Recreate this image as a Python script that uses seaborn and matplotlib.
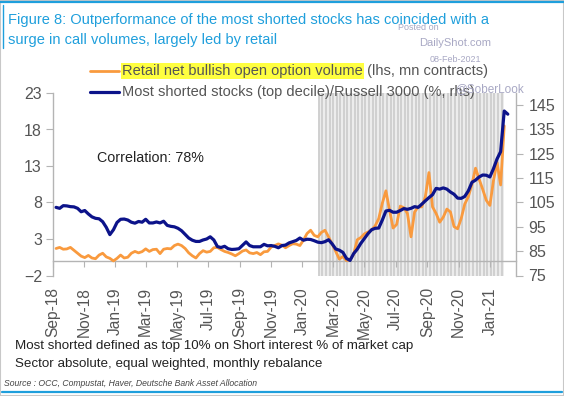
import numpy as np
import pandas as pd
import matplotlib
matplotlib.use('Agg')
import matplotlib.pyplot as plt
import matplotlib.dates as mdates
from matplotlib.lines import Line2D
from matplotlib.patches import Rectangle
import seaborn as sns

#=============================================================================
# data (weekly, Fridays)
weeks = pd.date_range('2018-09-07', periods=127, freq='7D')

# Most shorted stocks (top decile)/Russell 3000 (%, rhs)
shorted = [103.0, 102.6, 103.7, 103.6, 103.3, 103.2, 102.6, 101.2, 101.7, 100.3,
           99.1, 98.5, 98.3, 97.1, 94.8, 91.8, 93.8, 96.8, 98.1, 98.2,
           97.8, 96.9, 96.5, 97.2, 96.9, 98.1, 96.6, 96.6, 97.0, 96.6,
           97.3, 95.6, 95.2, 95.0, 94.4, 93.4, 91.9, 90.4, 89.5, 89.0,
           89.0, 89.6, 90.0, 90.9, 89.6, 86.9, 86.5, 87.0, 86.0, 85.7,
           85.8, 86.0, 87.4, 88.8, 87.3, 86.8, 86.8, 86.8, 87.8, 87.2,
           87.3, 87.0, 86.4, 87.3, 87.5, 88.4, 88.9, 89.4, 90.4, 89.5,
           89.9, 89.8, 89.3, 88.7, 88.5, 88.9, 89.7, 88.0, 85.9, 85.4,
           84.5, 82.0, 81.2, 84.0, 85.8, 88.2, 90.2, 92.2, 93.8, 94.4,
           94.5, 97.8, 101.5, 101.8, 101.0, 101.0, 101.7, 102.5, 102.2, 102.6,
           103.3, 103.0, 104.3, 105.7, 107.0, 108.2, 110.8, 110.5, 111.0, 110.5,
           109.3, 108.4, 106.8, 106.7, 107.5, 109.8, 113.3, 114.2, 115.5, 116.3,
           116.2, 115.5, 118.9, 122.9, 125.9, 142.6, 141.3]

# Retail net bullish open option volume (lhs, mn contracts)
retail = [1.7, 1.85, 1.6, 1.64, 1.85, 1.45, 1.05, 0.65, 0.45, 0.75,
          0.4, 0.3, 0.8, 1.05, 0.55, 0.35, 0.0, 0.35, 0.8, 0.4,
          0.5, 1.05, 1.3, 1.1, 1.27, 1.65, 1.3, 1.55, 1.6, 1.0,
          1.6, 1.7, 1.65, 2.1, 2.3, 2.1, 1.7, 1.1, 0.7, 0.4,
          1.0, 1.4, 1.2, 1.3, 1.8, 1.85, 1.55, 1.3, 1.15, 0.95,
          0.7, 1.0, 1.35, 1.5, 1.1, 1.0, 1.15, 0.85, 1.25, 1.3,
          1.9, 2.1, 2.33, 2.15, 1.8, 2.1, 2.35, 2.3, 2.1, 2.85,
          3.75, 4.2, 3.5, 3.3, 3.9, 4.2, 3.3, 2.3, 1.3, 0.25,
          0.6, 0.05, 0.15, 0.9, 2.9, 3.2, 3.7, 3.95, 4.25, 4.8,
          5.8, 7.9, 9.6, 7.0, 4.5, 5.0, 7.5, 7.3, 6.5, 3.3,
          6.7, 7.4, 7.4, 8.8, 12.1, 7.4, 6.5, 5.3, 6.0, 7.1,
          6.7, 4.7, 4.4, 5.8, 7.8, 8.8, 10.5, 12.7, 11.2, 9.8,
          8.3, 7.6, 11.0, 13.5, 10.4, 18.5, np.nan]

# shaded (striped) period
shade_start = pd.Timestamp('2020-02-02')
shade_end = pd.Timestamp('2021-01-29')
shade_weeks = pd.date_range(shade_start, shade_end, freq='7D')

left_ticks = [-2, 3, 8, 13, 18, 23]
right_ticks = [75, 85, 95, 105, 115, 125, 135, 145]

#=============================================================================
orange = '#f99a3e'
navy = '#0c138a'
blue_title = '#1f9fdc'
grey_txt = '#555555'
spine_c = '#b4b4b4'

sns.set_style('white')
plt.rcParams['font.family'] = ['Liberation Sans', 'DejaVu Sans']

fig = plt.figure(figsize=(5.64, 3.96), dpi=100)
ax = fig.add_axes([53/564, 1-275.5/396, (516-53)/564, (275.5-93)/396])
ax2 = ax.twinx()

# striped background
ax.axvspan(shade_start, shade_end, color='#ececec', lw=0, zorder=0)
for d in shade_weeks:
    ax.axvline(d, color='#d0d0d0', lw=1.4, zorder=0.5)

sns.lineplot(x=weeks, y=retail, ax=ax, color=orange, lw=2.0, zorder=3)
sns.lineplot(x=weeks, y=shorted, ax=ax2, color=navy, lw=2.3, zorder=3)

ax.set_ylim(-2, 23)
ax2.set_ylim(75, 150)
ax.set_yticks(left_ticks)
ax2.set_yticks(right_ticks)
ax.set_xlim(pd.Timestamp('2018-09-01'), pd.Timestamp('2021-02-21'))

ax.xaxis.set_major_locator(mdates.MonthLocator(bymonth=[1, 3, 5, 7, 9, 11]))
ax.xaxis.set_major_formatter(mdates.DateFormatter('%b-%y'))

for s in ['top', 'right']:
    ax.spines[s].set_visible(False)
for s in ['top', 'left', 'bottom']:
    ax2.spines[s].set_visible(False)
ax.spines['bottom'].set_position(('data', 0))
for s in [ax.spines['left'], ax.spines['bottom'], ax2.spines['right']]:
    s.set_color(spine_c)
    s.set_linewidth(1)

ax.tick_params(axis='y', direction='out', length=5, color=spine_c, labelsize=11.5,
               labelcolor=grey_txt, pad=3, left=True)
ax2.tick_params(axis='y', direction='out', length=5, color=spine_c, labelsize=11.5,
                labelcolor=grey_txt, pad=4, right=True)
ax.tick_params(axis='x', direction='out', length=4, color=spine_c, labelsize=11.2,
               labelcolor=grey_txt, pad=15, bottom=True, labelrotation=90)
ax.set_xlabel('')
ax.set_ylabel('')
ax2.set_ylabel('')
ax.grid(False)
ax2.grid(False)

# legend (drawn by hand to get the highlight)
y1 = 1 - 70.7/396
y2 = 1 - 92/396
fig.add_artist(Line2D([90/564, 119/564], [y1, y1], color=orange, lw=2.0))
fig.add_artist(Line2D([90/564, 119/564], [y2, y2], color=navy, lw=2.3))
t1 = fig.text(122/564, y1, 'Retail net bullish open option volume', fontsize=10.5,
              color=grey_txt, va='center', ha='left',
              bbox=dict(facecolor='#ffff40', edgecolor='none', pad=0.8))
fig.text(122/564, y2, 'Most shorted stocks (top decile)/Russell 3000 (%, rhs)',
         fontsize=10.5, color=grey_txt, va='center', ha='left')
ax.annotate(' (lhs, mn contracts)', xy=(1, 0.5), xycoords=t1, va='center',
            ha='left', fontsize=10.5, color=grey_txt)

fig.text(97/564, 1-158/396, 'Correlation: 78%', fontsize=10.3, color='#222222',
         va='center', ha='left')

# title
fig.text(8/564, 1-20/396,
         'Figure 8: Outperformance of the most shorted stocks has coincided with a',
         fontsize=10.5, color=blue_title, va='center', ha='left')
fig.text(8/564, 1-40/396, 'surge in call volumes, largely led by retail',
         fontsize=10.5, color=blue_title, va='center', ha='left')

# watermark
wm = '#a8a8c4'
fig.text(418/564, 1-28/396, 'Posted on', fontsize=6.5, color=wm, ha='center', va='center')
fig.text(455/564, 1-43/396, 'DailyShot.com', fontsize=8, color=wm, ha='center', va='center')
fig.text(455/564, 1-59/396, '08-Feb-2021', fontsize=6.5, color=wm, ha='center', va='center')
fig.text(489/564, 1-89/396, '@SoberLook', fontsize=8.5, color=wm, ha='center', va='center')

# footnotes
fig.text(15/564, 1-346/396,
         'Most shorted defined as top 10% on Short interest % of market cap',
         fontsize=9.6, color='#222222', va='center', ha='left')
fig.text(15/564, 1-364/396, 'Sector absolute, equal weighted, monthly rebalance',
         fontsize=9.6, color='#222222', va='center', ha='left')
fig.text(4/564, 1-383/396,
         'Source : OCC, Compustat, Haver, Deutsche Bank Asset Allocation',
         fontsize=6.2, color='#444444', style='italic', va='center', ha='left')

# frame
fig.add_artist(Rectangle((0, 0), 1, 1, transform=fig.transFigure, fill=False,
                         edgecolor='#c8c8c8', lw=1.5))
fig.add_artist(Line2D([0, 1], [1-2/396, 1-2/396], color=blue_title, lw=1.6))
fig.add_artist(Line2D([0.003, 0.997], [1-392/396, 1-392/396], color=blue_title, lw=1.6))
fig.add_artist(Line2D([3/564, 3/564], [1-5/396, 1-48/396], color=blue_title, lw=1))

fig.savefig('out.png', dpi=100)
